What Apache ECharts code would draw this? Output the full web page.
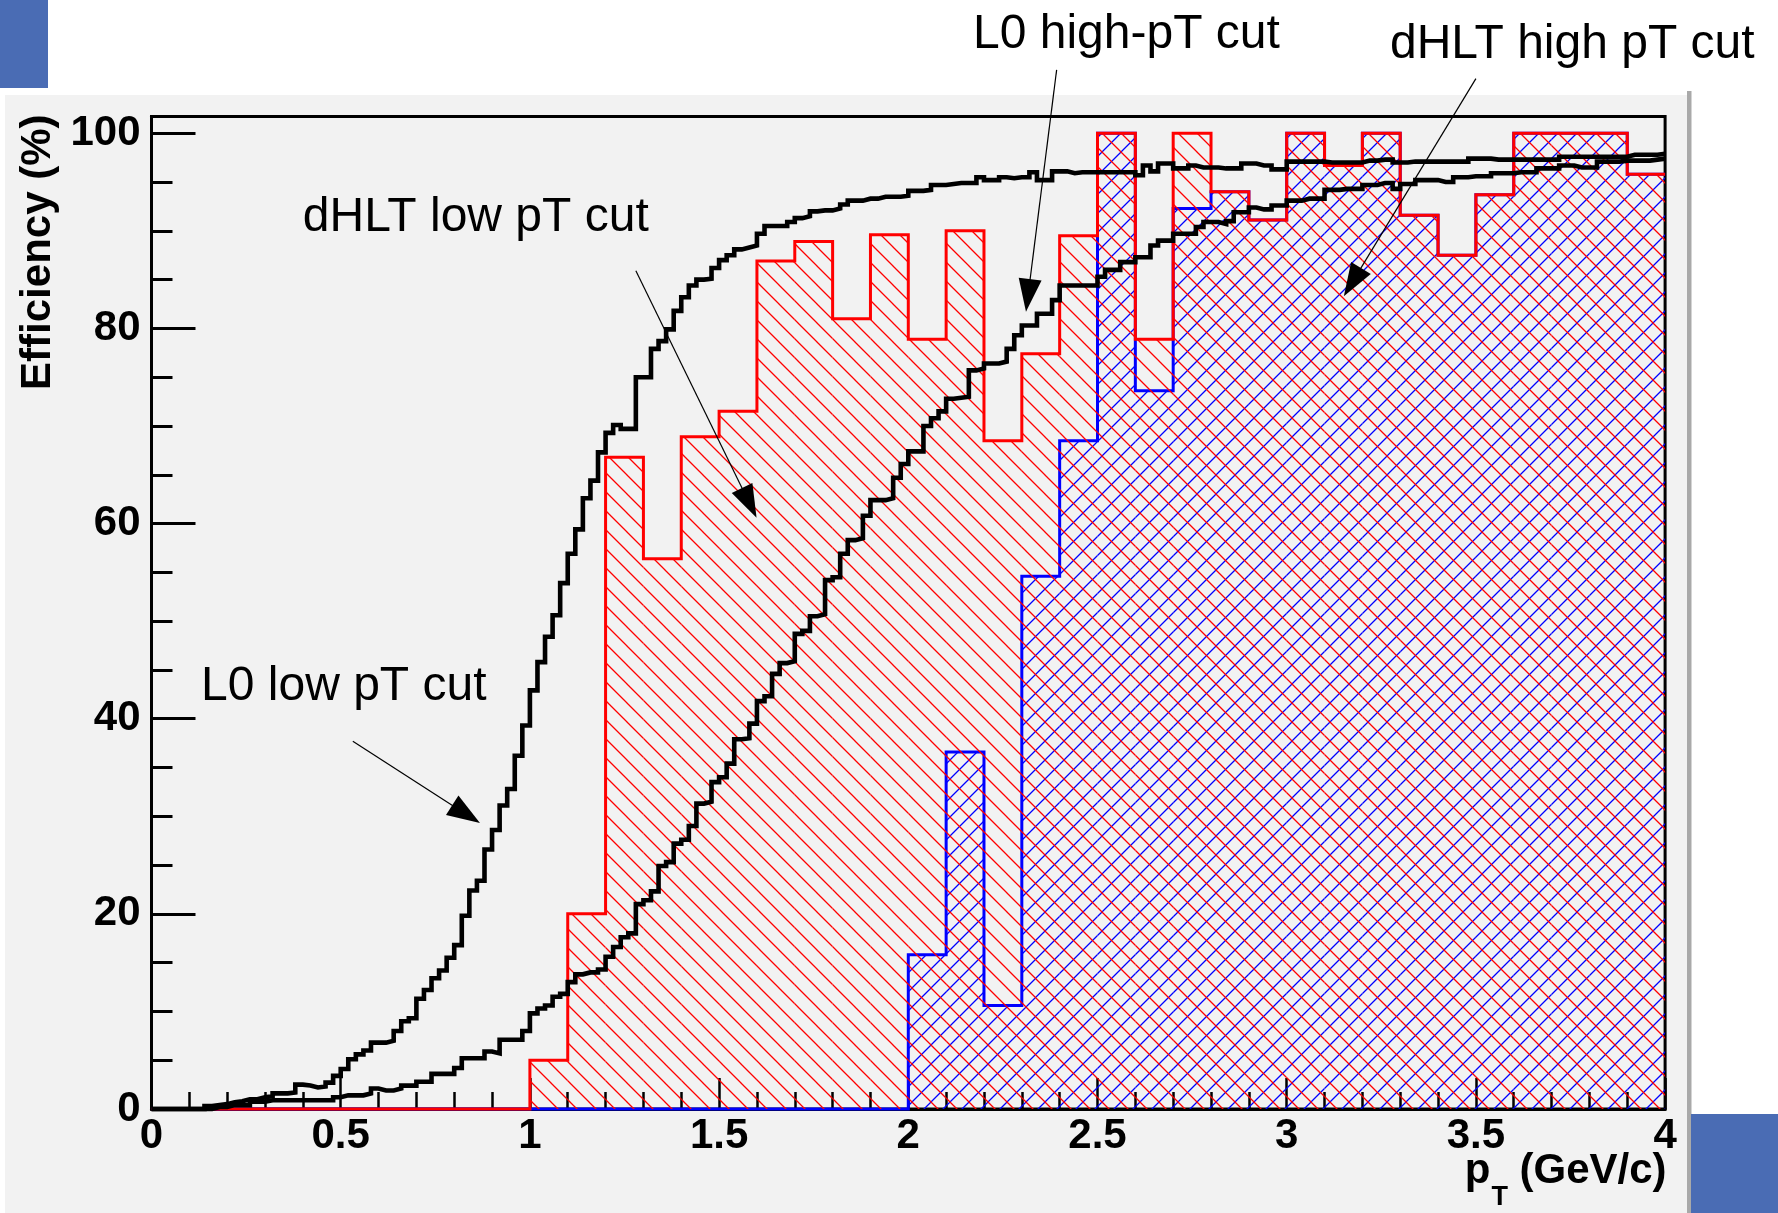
<!DOCTYPE html>
<html>
<head>
<meta charset="utf-8">
<title>Trigger efficiency vs pT</title>
<script src="https://cdn.jsdelivr.net/npm/echarts@6.0.0/dist/echarts.min.js"></script>
<style>
html, body { margin: 0; padding: 0; background: #ffffff; }
#chart { width: 1778px; height: 1213px; }
</style>
</head>
<body>
<div id="chart"></div>
<script>
// ------------------------------------------------------------------
// DATA
// ------------------------------------------------------------------
const coarseBinWidth = 0.1;   // dHLT histograms: 40 bins over 0..4 GeV/c
const fineBinWidth = 0.02;    // L0 histograms: 200 bins over 0..4 GeV/c

// dHLT low pT cut efficiency (%), bins 0.0-0.1 ... 3.9-4.0
const dhltLowPt = [
  0, 0, 0, 0, 0, 0, 0, 0, 0, 0,
  5.0, 20.0, 66.8, 56.4, 68.9, 71.5, 86.9, 88.9, 81.0, 89.6,
  78.9, 90.0, 68.5, 77.4, 89.5, 100, 78.9, 100, 94.0, 91.1,
  100, 96.7, 100, 91.6, 87.5, 93.7, 100, 100, 100, 95.8
];

// dHLT high pT cut efficiency (%), bins 0.0-0.1 ... 3.9-4.0
const dhltHighPt = [
  0, 0, 0, 0, 0, 0, 0, 0, 0, 0,
  0, 0, 0, 0, 0, 0, 0, 0, 0, 0,
  15.8, 36.6, 10.6, 54.6, 68.5, 100, 73.6, 92.3, 94.0, 91.1,
  100, 96.7, 100, 91.6, 87.5, 93.7, 100, 100, 100, 95.8
];

// L0 low pT cut efficiency (%), 200 bins of 0.02 GeV/c
const l0LowPt = [
  0, 0, 0, 0, 0, 0, 0,
  0.3, 0.4, 0.5, 0.7, 0.8, 1.0, 1.0,
  1.2, 1.3, 1.6, 1.6, 1.7, 2.5, 2.4,
  2.2, 2.3, 2.7, 3.4, 4.1, 5.1, 5.6,
  6.0, 6.8, 6.8, 7.0, 8.0, 9.0, 9.3,
  11.3, 12.2, 13.4, 14.2, 15.5, 16.8, 19.8,
  22.4, 23.4, 26.6, 28.6, 31.1, 32.8, 36.2,
  39.3, 42.9, 45.8, 48.4, 50.6, 53.9, 56.9,
  59.4, 62.6, 64.4, 67.3, 69.3, 70.1, 69.7,
  69.7, 75.0, 75.0, 77.9, 78.7, 79.9, 81.8,
  83.2, 84.4, 85.0, 85.1, 86.2, 87.0, 87.5,
  88.1, 88.3, 88.5, 89.7, 90.5, 90.5, 90.5,
  90.9, 91.3, 91.5, 92.0, 92.1, 92.1, 92.3,
  92.7, 93.1, 93.1, 93.3, 93.3, 93.5, 93.5,
  93.5, 93.6, 94.1, 94.1, 94.2, 94.7, 94.7,
  94.8, 94.9, 94.9, 94.9, 95.5, 95.2, 95.2,
  95.5, 95.4, 95.5, 95.5, 96.0, 95.2, 95.2,
  96.1, 96.1, 95.9, 96.0, 96.0, 96.0, 96.0,
  96.0, 96.0, 96.0, 96.0, 95.7, 96.7, 96.1,
  96.9, 96.9, 96.4, 96.4, 96.7, 96.5, 96.5,
  96.5, 96.4, 96.4, 96.4, 96.9, 96.9, 96.7,
  96.7, 96.3, 96.3, 97.1, 97.1, 97.1, 97.1,
  97.1, 97.0, 97.0, 97.0, 97.0, 97.0, 97.2,
  97.2, 97.3, 97.3, 97.0, 97.0, 97.1, 97.1,
  97.1, 97.1, 97.1, 97.1, 97.1, 97.1, 97.4,
  97.4, 97.4, 97.3, 97.3, 97.3, 97.3, 97.3,
  97.3, 97.3, 97.3, 97.3, 97.6, 97.6, 97.6,
  97.6, 97.6, 97.6, 97.6, 97.6, 97.6, 97.8,
  97.8, 97.8, 97.8, 97.9
];

// L0 high pT cut efficiency (%), 200 bins of 0.02 GeV/c
const l0HighPt = [
  0, 0, 0, 0, 0, 0, 0, 0,
  0.2, 0.2, 0.4, 0.4, 0.4, 0.75, 0.75,
  0.9, 0.9, 0.9, 0.9, 0.9, 0.9, 0.9,
  0.9, 0.9, 1.2, 1.4, 1.4, 1.4, 1.6,
  2.1, 1.9, 1.9, 2.1, 2.4, 2.4, 2.8,
  2.8, 3.6, 3.6, 3.6, 4.2, 5.2, 5.2,
  5.2, 5.9, 5.7, 7.1, 7.1, 7.1, 8.0,
  9.8, 10.3, 10.6, 11.5, 11.8, 13.0, 13.8,
  14.0, 14.0, 14.3, 15.6, 16.6, 17.6, 18.0,
  21.0, 21.4, 22.3, 24.9, 25.3, 27.2, 27.6,
  29.0, 31.3, 31.5, 33.5, 34.0, 35.4, 37.9,
  38.0, 39.5, 41.8, 42.3, 44.6, 45.7, 45.9,
  48.7, 49.0, 50.5, 50.7, 54.2, 54.5, 56.9,
  58.3, 58.5, 60.8, 62.4, 62.4, 62.6, 64.7,
  66.1, 67.4, 67.4, 70.0, 70.8, 71.5, 72.8,
  72.9, 73.0, 75.7, 75.9, 76.4, 76.4, 76.6,
  77.9, 79.3, 80.3, 80.3, 81.5, 81.5, 82.9,
  84.4, 84.4, 84.4, 84.4, 84.4, 85.3, 86.0,
  86.0, 86.8, 86.8, 87.3, 87.3, 88.5, 89.0,
  89.0, 89.7, 89.7, 89.7, 90.4, 90.9, 90.9,
  90.7, 91.0, 91.9, 91.9, 92.4, 92.2, 92.2,
  92.6, 92.6, 93.1, 93.1, 93.3, 93.3, 93.3,
  94.2, 94.2, 94.3, 94.3, 94.3, 94.7, 94.7,
  94.9, 94.9, 94.3, 94.8, 94.8, 95.2, 95.2,
  95.2, 95.0, 95.0, 95.5, 95.5, 95.6, 95.6,
  95.6, 95.9, 95.9, 95.9, 96.0, 96.0, 96.0,
  96.4, 96.4, 96.4, 96.7, 96.7, 96.5, 96.5,
  96.5, 97.1, 97.1, 97.1, 97.2, 97.2, 97.2,
  97.2, 97.3, 97.4
];

const xTickLabels = ['0', '0.5', '1', '1.5', '2', '2.5', '3', '3.5', '4'];
const yTickLabels = ['0', '20', '40', '60', '80', '100'];
const yTitle = 'Efficiency (%)';
const annotationTexts = ['dHLT low pT cut', 'L0 low pT cut', 'L0 high-pT cut', 'dHLT high pT cut'];

// ------------------------------------------------------------------
// LAYOUT / STYLE
// ------------------------------------------------------------------
const Y_MAX = 101.72;
const FONT = '"Liberation Sans", Arial, Helvetica, sans-serif';
// annotation anchors in data coordinates: text baseline-left, arrow start, arrow tip
const annotationGeom = [
  { textAt: [0.400, 89.8], from: [1.280, 85.9], to: [1.599, 60.6] },
  { textAt: [0.131, 41.8], from: [0.532, 37.7], to: [0.868, 29.3] },
  { textAt: [2.171, 108.6], from: [2.392, 106.5], to: [2.311, 81.7] },
  { textAt: [3.273, 107.5], from: [3.500, 105.6], to: [3.151, 83.3] }
];

const xMin = parseFloat(xTickLabels[0]);
const xMax = parseFloat(xTickLabels[xTickLabels.length - 1]);

function edges(n, w) { const e = []; for (let i = 0; i < n; i++) e.push(+(i * w).toFixed(4)); return e; }
const coarseEdges = edges(dhltLowPt.length, coarseBinWidth);
const fineEdges = edges(l0LowPt.length, fineBinWidth);

function hatch(color, dir) {
  const P = 19;
  const c = document.createElement('canvas');
  c.width = P; c.height = P;
  const g = c.getContext('2d');
  g.strokeStyle = color;
  g.lineWidth = 1.3;
  g.beginPath();
  if (dir === 'down') {          // "\\\" lines
    g.moveTo(-3, -3); g.lineTo(P + 3, P + 3);
    g.moveTo(P - 3, -3); g.lineTo(P + 3, 3);
    g.moveTo(-3, P - 3); g.lineTo(3, P + 3);
  } else {                       // "///" lines
    g.moveTo(-3, P + 3); g.lineTo(P + 3, -3);
    g.moveTo(-3, 3); g.lineTo(3, -3);
    g.moveTo(P - 3, P + 3); g.lineTo(P + 3, P - 3);
  }
  g.stroke();
  return c;
}
const redHatch = hatch('#ff0000', 'down');
const blueHatch = hatch('#0000ff', 'up');

function fillSeries(name, values, pattern, z) {
  return {
    type: 'custom', name: name, z: z, silent: true, animation: false, clip: false,
    data: values.map((v, i) => [coarseEdges[i], coarseEdges[i] + coarseBinWidth, v]),
    encode: { x: [0, 1], y: 2 },
    renderItem: function (params, api) {
      const v = api.value(2);
      if (!v) return null;
      const p0 = api.coord([api.value(0), v]);
      const p1 = api.coord([api.value(1), 0]);
      return {
        type: 'rect', silent: true,
        shape: { x: p0[0], y: p0[1], width: p1[0] - p0[0], height: p1[1] - p0[1] },
        style: { fill: { image: pattern, repeat: 'repeat' }, stroke: null }
      };
    }
  };
}

function stepSeries(name, values, binEdges, width, color, z) {
  const pts = values.map((v, i) => [binEdges[i], v]);
  pts.push([xMax, values[values.length - 1]]);
  return {
    type: 'line', name: name, step: 'end', z: z, data: pts,
    symbol: 'none', showSymbol: false, silent: true, animation: false, clip: false,
    lineStyle: { color: color, width: width, cap: 'butt', join: 'miter' }
  };
}

const chart = echarts.init(document.getElementById('chart'), null, { renderer: 'canvas', width: 1778, height: 1213 });

const option = {
  animation: false,
  backgroundColor: '#ffffff',
  textStyle: { fontFamily: FONT },
  grid: {
    left: 151.5, right: 112.9, top: 116.5, bottom: 104,
    containLabel: false, outerBoundsMode: 'none',
    show: true, backgroundColor: '#f2f2f2', borderColor: '#000000', borderWidth: 3
  },
  xAxis: {
    type: 'value', min: xMin, max: xMax, interval: 0.5,
    axisLine: { show: true, onZero: false, lineStyle: { color: '#000', width: 3 } },
    axisTick: { show: true, inside: true, length: 31, lineStyle: { color: '#000', width: 2.5 } },
    minorTick: { show: true, splitNumber: 5, length: 17, lineStyle: { color: '#000', width: 2.5 } },
    splitLine: { show: false }, minorSplitLine: { show: false },
    axisLabel: {
      show: true, margin: 6, color: '#000', fontFamily: FONT, fontWeight: 'bold', fontSize: 42,
      formatter: v => { const i = xTickLabels.findIndex(s => Math.abs(parseFloat(s) - v) < 1e-6); return i >= 0 ? xTickLabels[i] : ''; }
    }
  },
  yAxis: [
    {
      type: 'value', min: 0, max: Y_MAX, interval: 20, position: 'left',
      axisLine: { show: true, onZero: false, lineStyle: { color: '#000', width: 3 } },
      axisTick: { show: true, inside: true, length: 44, lineStyle: { color: '#000', width: 3 } },
      splitLine: { show: false },
      axisLabel: {
        show: true, margin: 11, color: '#000', fontFamily: FONT, fontWeight: 'bold', fontSize: 42,
        showMaxLabel: false,
        formatter: v => { const i = yTickLabels.findIndex(s => Math.abs(parseFloat(s) - v) < 1e-6); return i >= 0 ? yTickLabels[i] : ''; }
      }
    },
    {
      type: 'value', min: 0, max: Y_MAX, interval: 5, position: 'left', offset: 0,
      axisLine: { show: false },
      axisTick: { show: true, inside: true, length: 21, lineStyle: { color: '#000', width: 3 } },
      splitLine: { show: false },
      axisLabel: { show: false }
    }
  ],
  series: [
    fillSeries('dHLT high pT cut (fill)', dhltHighPt, blueHatch, 2),
    stepSeries('dHLT high pT cut', dhltHighPt, coarseEdges, 3, '#0000ff', 3),
    fillSeries('dHLT low pT cut (fill)', dhltLowPt, redHatch, 4),
    stepSeries('dHLT low pT cut', dhltLowPt, coarseEdges, 3, '#ff0000', 5),
    stepSeries('L0 high pT cut', l0HighPt, fineEdges, 4.6, '#000000', 6),
    stepSeries('L0 low pT cut', l0LowPt, fineEdges, 4.6, '#000000', 7)
  ]
};
chart.setOption(option);

// ------------------------------------------------------------------
// Annotations, titles and page decoration
// ------------------------------------------------------------------
const toPx = p => chart.convertToPixel({ xAxisIndex: 0, yAxisIndex: 0 }, p);
const measureCtx = document.createElement('canvas').getContext('2d');
function textWidth(t, font) { measureCtx.font = font; return measureCtx.measureText(t).width; }

const gfx = [];
// page decoration
gfx.push({ type: 'rect', z: -10, silent: true, shape: { x: 5, y: 95, width: 1682, height: 1118 }, style: { fill: '#f2f2f2' } });
gfx.push({ type: 'rect', z: -10, silent: true, shape: { x: 1687, y: 91, width: 4.5, height: 1122 }, style: { fill: '#a9a9a9' } });
gfx.push({ type: 'rect', z: -10, silent: true, shape: { x: 0, y: 0, width: 48, height: 88 }, style: { fill: '#4a6cb4' } });
gfx.push({ type: 'rect', z: -10, silent: true, shape: { x: 1691, y: 1114, width: 87, height: 99 }, style: { fill: '#4a6cb4' } });

// annotations with arrows
const ANN_SIZE = 48;
annotationGeom.forEach((g, i) => {
  const t = toPx(g.textAt);
  gfx.push({
    type: 'text', z: 20, silent: true, x: t[0], y: t[1] - 0.31 * ANN_SIZE,
    style: { text: annotationTexts[i], font: ANN_SIZE + 'px ' + FONT, fill: '#000', align: 'left', verticalAlign: 'middle' }
  });
  const a = toPx(g.from), b = toPx(g.to);
  const dx = b[0] - a[0], dy = b[1] - a[1], L = Math.hypot(dx, dy);
  const ux = dx / L, uy = dy / L, hl = 33, hw = 11.5;
  const bx = b[0] - ux * hl, by = b[1] - uy * hl;
  gfx.push({ type: 'line', z: 20, silent: true, shape: { x1: a[0], y1: a[1], x2: bx + ux * 4, y2: by + uy * 4 }, style: { stroke: '#000', lineWidth: 1.2 } });
  gfx.push({
    type: 'polygon', z: 20, silent: true,
    shape: { points: [[b[0], b[1]], [bx - uy * hw, by + ux * hw], [bx + uy * hw, by - ux * hw]] },
    style: { fill: '#000' }
  });
});

// y-axis title (rotated, right-aligned at the top)
const frameTopPx = toPx([0, Y_MAX]);
gfx.push({
  type: 'text', z: 20, silent: true, x: 38, y: frameTopPx[1] - 2, rotation: Math.PI / 2,
  style: { text: yTitle, font: 'bold 42px ' + FONT, fill: '#000', align: 'right', verticalAlign: 'middle' }
});

// x-axis title p_T (GeV/c), right-aligned at the axis end
const cornerPx = toPx([xMax, 0]);
const bigFont = 'bold 42px ' + FONT, subFont = 'bold 27px ' + FONT;
const rightEdge = cornerPx[0] + 1.5;
const titleBaseline = cornerPx[1] + 75.5;
const wRest = textWidth('(GeV/c)', bigFont);
const restLeft = rightEdge - wRest;
const tRight = restLeft - textWidth(' ', bigFont);
const tLeft = tRight - textWidth('T', subFont);
const pLeft = tLeft - 1 - textWidth('p', bigFont);
gfx.push({ type: 'text', z: 20, silent: true, x: rightEdge, y: titleBaseline - 13, style: { text: '(GeV/c)', font: bigFont, fill: '#000', align: 'right', verticalAlign: 'middle' } });
gfx.push({ type: 'text', z: 20, silent: true, x: pLeft, y: titleBaseline - 13, style: { text: 'p', font: bigFont, fill: '#000', align: 'left', verticalAlign: 'middle' } });
gfx.push({ type: 'text', z: 20, silent: true, x: tLeft, y: titleBaseline + 21 - 8.4, style: { text: 'T', font: subFont, fill: '#000', align: 'left', verticalAlign: 'middle' } });

chart.setOption({ graphic: { elements: gfx } });
</script>
</body>
</html>
